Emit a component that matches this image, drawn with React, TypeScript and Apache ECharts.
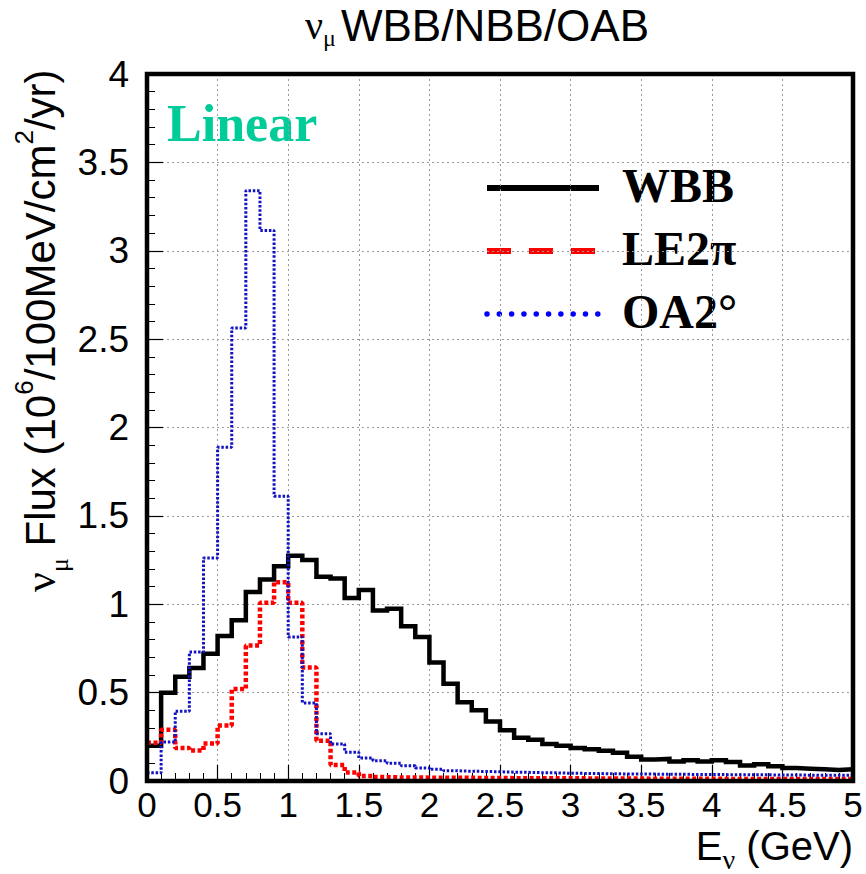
import React, { useEffect, useRef } from 'react';
import * as echarts from 'echarts';

// ---- data (flux per 0.1 GeV bin, 0 - 5 GeV) ----
const binWidth = 0.1;
const wbb = [
  0.2, 0.5, 0.59, 0.64, 0.72, 0.82, 0.91, 1.07, 1.14, 1.215,
  1.275, 1.25, 1.155, 1.145, 1.035, 1.08, 0.965, 0.975, 0.875, 0.815,
  0.67, 0.55, 0.445, 0.4, 0.337, 0.287, 0.244, 0.233, 0.21, 0.2,
  0.186, 0.18, 0.171, 0.16, 0.137, 0.122, 0.125, 0.11, 0.118, 0.11,
  0.118, 0.107, 0.088, 0.095, 0.084, 0.073, 0.07, 0.066, 0.062, 0.066,
];
const le2pi = [
  0.216, 0.29, 0.186, 0.172, 0.212, 0.314, 0.52, 0.766, 1.008, 1.125,
  1.008, 0.642, 0.228, 0.09, 0.048, 0.028, 0.022, 0.02, 0.02, 0.019,
  0.019, 0.018, 0.018, 0.017, 0.017, 0.016, 0.016, 0.016, 0.015, 0.015,
  0.015, 0.014, 0.014, 0.014, 0.014, 0.013, 0.013, 0.013, 0.013, 0.013,
  0.012, 0.012, 0.012, 0.012, 0.012, 0.011, 0.011, 0.011, 0.011, 0.011,
];
const oa2 = [
  0.046, 0.22, 0.395, 0.73, 1.262, 1.888, 2.563, 3.34, 3.115, 1.611,
  0.815, 0.442, 0.268, 0.21, 0.163, 0.13, 0.115, 0.1, 0.086, 0.074,
  0.066, 0.058, 0.055, 0.054, 0.052, 0.05, 0.049, 0.047, 0.046, 0.044,
  0.043, 0.042, 0.041, 0.04, 0.04, 0.039, 0.038, 0.038, 0.037, 0.037,
  0.036, 0.036, 0.035, 0.035, 0.034, 0.034, 0.033, 0.032, 0.033, 0.032,
];
const seriesNames = ['WBB', 'LE2\u03c0', 'OA2\u00b0'];
const xRange = [0, 5];
const yRange = [0, 4];
const tickStep = 0.5;

// ---- helpers ----
const SANS = '"Liberation Sans", Arial, Helvetica, sans-serif';
const SERIF = '"Liberation Serif", "Times New Roman", serif';

const measureCanvas = typeof document !== 'undefined' ? document.createElement('canvas') : null;
function textWidth(text: string, font: string): number {
  const ctx = measureCanvas ? measureCanvas.getContext('2d') : null;
  if (!ctx) return text.length * 20;
  ctx.font = font;
  return ctx.measureText(text).width;
}

type Piece = { text: string; font: string; dy: number; gap?: number };
function buildRow(pieces: Piece[], color: string, lineHeight?: number) {
  let x = 0;
  const children: any[] = [];
  for (const p of pieces) {
    const style: any = {
      text: p.text,
      font: p.font,
      fill: color,
      textAlign: 'left',
      textVerticalAlign: 'middle',
      align: 'left',
      verticalAlign: 'middle',
    };
    if (lineHeight) style.lineHeight = lineHeight;
    children.push({ type: 'text', x, y: p.dy, silent: true, style });
    x += textWidth(p.text, p.font) + (p.gap || 0);
  }
  return { children, width: x };
}

function stepData(vals: number[]) {
  const pts: number[][] = vals.map((v, i) => [+(i * binWidth).toFixed(3), v]);
  pts.push([+(vals.length * binWidth).toFixed(3), vals[vals.length - 1]]);
  return pts;
}

function buildOption() {
  // title: nu_mu WBB/NBB/OAB
  const title = buildRow(
    [
      { text: '\u03bd', font: `40px ${SERIF}`, dy: 0 },
      { text: '\u03bc', font: `24px ${SERIF}`, dy: 13, gap: 5 },
      { text: 'WBB/NBB/OAB', font: `44px ${SANS}`, dy: 0 },
    ],
    '#000'
  );
  // y axis title
  const yTitle = buildRow(
    [
      { text: '\u03bd', font: `44px ${SERIF}`, dy: 0 },
      { text: '\u03bc', font: `26px ${SERIF}`, dy: 19 },
      { text: ' Flux (10', font: `42px ${SANS}`, dy: 0 },
      { text: '6', font: `26px ${SANS}`, dy: -16 },
      { text: '/100MeV/cm', font: `42px ${SANS}`, dy: 0 },
      { text: '2', font: `26px ${SANS}`, dy: -16 },
      { text: '/yr)', font: `42px ${SANS}`, dy: 0 },
    ],
    '#000'
  );
  // x axis title
  const xTitle = buildRow(
    [
      { text: 'E', font: `40px ${SANS}`, dy: 0 },
      { text: '\u03bd', font: `28px ${SERIF}`, dy: 13 },
      { text: ' (GeV)', font: `40px ${SANS}`, dy: 0 },
    ],
    '#000'
  );

  const legendFont = `bold 48px ${SERIF}`;
  const legendX1 = 487;
  const legendX2 = 599;
  const legendTextX = 622;
  const legendRows = [188, 251, 314];

  const graphic: any[] = [
    { type: 'group', x: 305, y: 25, silent: true, children: title.children },
    { type: 'group', x: 40, y: 592, rotation: Math.PI / 2, silent: true, children: yTitle.children },
    { type: 'group', x: 853 - xTitle.width, y: 846, silent: true, children: xTitle.children },
    {
      type: 'text',
      x: 167,
      y: 123,
      silent: true,
      style: {
        text: 'Linear',
        font: `bold 52px ${SERIF}`,
        fill: '#00cc99',
        textAlign: 'left',
        textVerticalAlign: 'middle',
        align: 'left',
        verticalAlign: 'middle',
      },
    },
    // legend
    {
      type: 'line',
      silent: true,
      shape: { x1: legendX1, y1: legendRows[0], x2: legendX2, y2: legendRows[0] },
      style: { stroke: '#000', lineWidth: 6 },
    },
    {
      type: 'line',
      silent: true,
      shape: { x1: legendX1, y1: legendRows[1], x2: legendX2 - 4, y2: legendRows[1] },
      style: { stroke: '#ff0000', lineWidth: 6, lineDash: [24, 18] },
    },
    {
      type: 'line',
      silent: true,
      shape: { x1: legendX1, y1: legendRows[2], x2: legendX2 + 2, y2: legendRows[2] },
      style: { stroke: '#0000ff', lineWidth: 5.5, lineDash: [0.01, 12.3], lineCap: 'round' },
    },
    ...seriesNames.map((name, i) => ({
      type: 'text',
      x: legendTextX,
      y: legendRows[i] - 3,
      silent: true,
      style: {
        text: name,
        font: legendFont,
        fill: '#000',
        textAlign: 'left',
        textVerticalAlign: 'middle',
        align: 'left',
        verticalAlign: 'middle',
      },
    })),
  ];

  const axisCommon = {
    type: 'value',
    interval: tickStep,
    axisLine: { show: false },
    axisTick: { show: true, inside: true, length: 16, lineStyle: { color: '#000', width: 1.2 } },
    minorTick: { show: true, splitNumber: 5, length: 8, lineStyle: { color: '#000', width: 1 } },
    splitLine: { show: true, lineStyle: { color: '#9a9a9a', width: 1, type: [2, 3] } },
  };

  return {
    animation: false,
    backgroundColor: '#ffffff',
    grid: {
      left: 147,
      right: 13,
      top: 74,
      bottom: 93,
      show: true,
      borderColor: '#000',
      borderWidth: 4.5,
      backgroundColor: 'transparent',
      z: 10,
    },
    xAxis: {
      ...axisCommon,
      min: xRange[0],
      max: xRange[1],
      axisLabel: { fontSize: 35, lineHeight: 30, fontFamily: SANS, color: '#000', margin: 8 },
    },
    yAxis: {
      ...axisCommon,
      min: yRange[0],
      max: yRange[1],
      axisLabel: { fontSize: 37, fontFamily: SANS, color: '#000', margin: 18 },
    },
    series: [
      {
        name: seriesNames[0],
        type: 'line',
        step: 'end',
        data: stepData(wbb),
        symbol: 'none',
        showSymbol: false,
        z: 3,
        lineStyle: { color: '#000000', width: 4.5, cap: 'butt', join: 'miter' },
      },
      {
        name: seriesNames[1],
        type: 'line',
        step: 'end',
        data: stepData(le2pi),
        symbol: 'none',
        showSymbol: false,
        z: 4,
        lineStyle: { color: '#ff0000', width: 4.5, type: [4, 2.5], cap: 'butt' },
      },
      {
        name: seriesNames[2],
        type: 'line',
        step: 'end',
        data: stepData(oa2),
        symbol: 'none',
        showSymbol: false,
        z: 5,
        lineStyle: { color: '#1212c4', width: 3, type: [2.5, 1.8], cap: 'butt' },
      },
    ],
    graphic,
  };
}

export default function App() {
  const ref = useRef<HTMLDivElement>(null);
  useEffect(() => {
    if (!ref.current) return;
    const chart = echarts.init(ref.current, undefined, { renderer: 'svg' });
    chart.setOption(buildOption() as any);
    return () => {
      chart.dispose();
    };
  }, []);
  return (
    <div
      ref={ref}
      style={{ position: 'fixed', left: 0, top: 0, width: 866, height: 874, background: '#fff' }}
    />
  );
}
